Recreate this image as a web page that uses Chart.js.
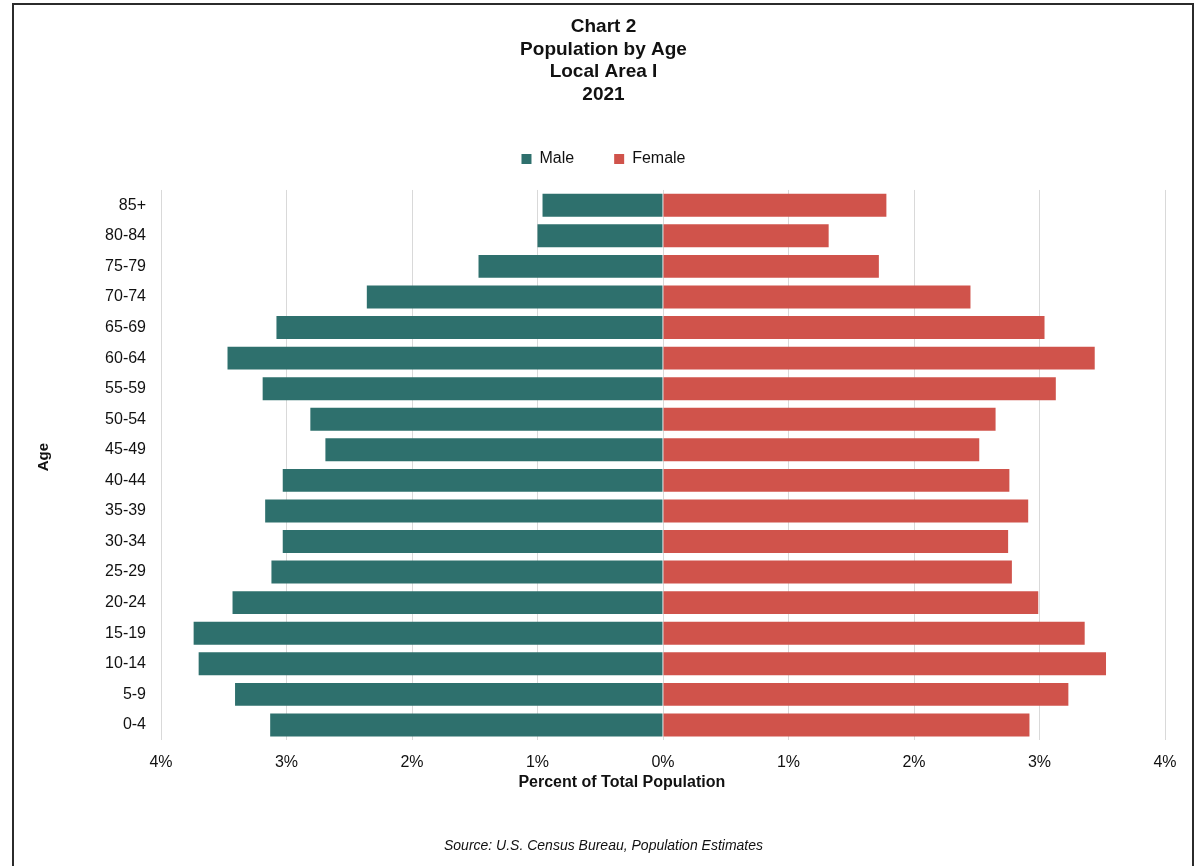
<!DOCTYPE html>
<html>
<head>
<meta charset="utf-8">
<title>Population by Age</title>
<script src="https://cdn.jsdelivr.net/npm/chart.js@4/dist/chart.umd.min.js"></script>
<style>
  html, body { margin: 0; padding: 0; background: #fff; overflow: hidden; }
  body { width: 1196px; height: 866px; position: relative; }
  .frame {
    position: absolute; left: 12px; top: 3px; width: 1182px; height: 1000px;
    box-sizing: border-box; border: 2px solid #2b2b2b;
  }
  .wrap { position: absolute; left: 14px; top: 5px; width: 1179px; height: 861px; }
</style>
</head>
<body>
<div class="frame"></div>
<div class="wrap"><canvas id="pyramid"></canvas></div>
<script>
// Age groups, oldest first (top of the pyramid)
const ageGroups = ['85+', '80-84', '75-79', '70-74', '65-69', '60-64', '55-59', '50-54', '45-49',
                   '40-44', '35-39', '30-34', '25-29', '20-24', '15-19', '10-14', '5-9', '0-4'];

// Share of total population, in percent
const malePct   = [0.96, 1.00, 1.47, 2.36, 3.08, 3.47, 3.19, 2.81, 2.69,
                   3.03, 3.17, 3.03, 3.12, 3.43, 3.74, 3.70, 3.41, 3.13];
const femalePct = [1.78, 1.32, 1.72, 2.45, 3.04, 3.44, 3.13, 2.65, 2.52,
                   2.76, 2.91, 2.75, 2.78, 2.99, 3.36, 3.53, 3.23, 2.92];

// Percent axis ticks (left side mirrored)
const pctTicks = [-4, -3, -2, -1, 0, 1, 2, 3, 4];

const titleLines = ['Chart 2', 'Population by Age', 'Local Area I', '2021'];
const xAxisTitle = 'Percent of Total Population';
const yAxisTitle = 'Age';
const sourceNote = 'Source: U.S. Census Bureau, Population Estimates';

const FONT = '"Liberation Sans", Arial, Helvetica, sans-serif';
const INK = '#111111';

// Extra room between the legend and the plot
const legendGap = {
  id: 'legendGap',
  beforeInit(chart) {
    const fit = chart.legend.fit;
    chart.legend.fit = function () {
      fit.call(this);
      this.height += 13;
    };
  }
};

// Axis captions, placed freely around the plot area
const axisCaptions = {
  id: 'axisCaptions',
  afterDraw(chart) {
    const { ctx, chartArea: a } = chart;
    ctx.save();
    ctx.fillStyle = INK;
    ctx.textAlign = 'center';
    ctx.textBaseline = 'middle';
    ctx.font = 'bold 16px ' + FONT;
    ctx.fillText(xAxisTitle, a.left + (a.right - a.left) * 0.459, a.bottom + 42);
    ctx.translate(30, (a.top + a.bottom) / 2 - 8);
    ctx.rotate(-Math.PI / 2);
    ctx.font = 'bold 15px ' + FONT;
    ctx.fillText(yAxisTitle, 0, 0);
    ctx.restore();
  }
};

new Chart(document.getElementById('pyramid'), {
  type: 'bar',
  data: {
    labels: ageGroups,
    datasets: [
      {
        label: 'Male',
        data: malePct.map(v => -v),
        backgroundColor: '#2e706d',
        borderWidth: 0,
        barPercentage: 0.75,
        categoryPercentage: 1
      },
      {
        label: 'Female',
        data: femalePct,
        backgroundColor: '#d0534b',
        borderWidth: 0,
        barPercentage: 0.75,
        categoryPercentage: 1
      }
    ]
  },
  options: {
    indexAxis: 'y',
    responsive: true,
    maintainAspectRatio: false,
    animation: false,
    layout: { padding: { left: 28, right: 28, top: 0, bottom: 0 } },
    scales: {
      x: {
        type: 'linear',
        min: pctTicks[0],
        max: pctTicks[pctTicks.length - 1],
        afterBuildTicks(scale) {
          scale.ticks = pctTicks.map(v => ({ value: v }));
        },
        ticks: {
          padding: 13,
          color: INK,
          font: { family: FONT, size: 16 },
          callback: v => Math.abs(v) + '%'
        },
        grid: { color: '#d9d9d9', lineWidth: 1, drawTicks: false },
        border: { display: false },
        title: { display: false },
        afterFit(scale) { scale.height = 56; }
      },
      y: {
        stacked: true,
        grid: { display: false, drawTicks: false },
        border: { display: false },
        ticks: {
          padding: 15,
          color: INK,
          font: { family: FONT, size: 16 }
        },
        title: { display: false },
        afterFit(scale) { scale.width = 119; }
      }
    },
    plugins: {
      title: {
        display: true,
        text: titleLines,
        color: INK,
        font: { family: FONT, size: 19, weight: 'bold', lineHeight: 1.184 },
        padding: { top: 11, bottom: 5 }
      },
      legend: {
        display: true,
        position: 'top',
        labels: {
          boxWidth: 10,
          boxHeight: 10,
          padding: 40,
          color: INK,
          font: { family: FONT, size: 16 }
        }
      },
      subtitle: {
        display: true,
        position: 'bottom',
        text: sourceNote,
        color: INK,
        font: { family: FONT, size: 14, style: 'italic', lineHeight: 1.2 },
        padding: { top: 42, bottom: 11 }
      },
      tooltip: { enabled: false }
    }
  },
  plugins: [legendGap, axisCaptions]
});
</script>
</body>
</html>
